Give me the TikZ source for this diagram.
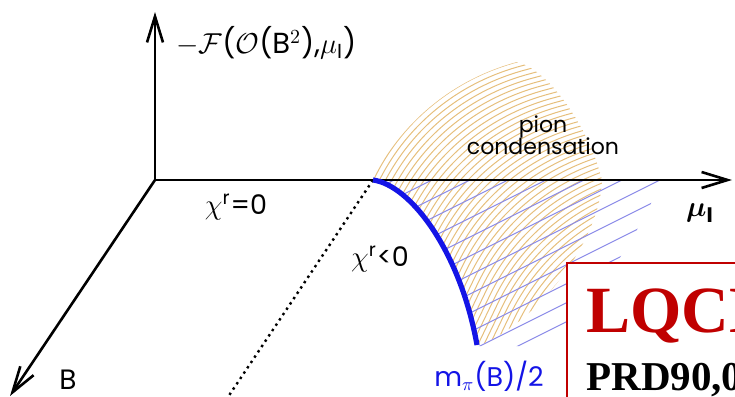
\documentclass[tikz,border=0pt]{standalone}
\usepackage{amsmath}
\usepackage{fontspec}
\setmainfont{Poppins}
\newfontfamily\refserif{Liberation Serif}
\usetikzlibrary{arrows.meta}
\definecolor{pionTan}{HTML}{E6BF7C}
\definecolor{hatchBlue}{HTML}{8A8AE8}
\definecolor{curveBlue}{HTML}{1414E6}
\definecolor{lqcdRed}{HTML}{C00000}
\tikzset{
  axisArrow/.style={line width=1.3pt, -{Straight Barb[length=13pt, width=8pt, line width=1.3pt]}},
  pionHatch/.style={pionTan, line width=0.5pt},
  blueHatch/.style={hatchBlue, line width=0.55pt},
  critCurve/.style={curveBlue, line width=2.6pt},
  lbl/.style={font=\fontsize{13.5}{15}\selectfont, inner sep=0pt},
  refFrame/.style={draw=lqcdRed, line width=1pt, fill=white},
}

\begin{document}
\begin{tikzpicture}[x=0.5pt, y=-0.5pt]
  \clip (0,0) rectangle (735,397);
  \coordinate (O) at (155,180);
  \coordinate (ytip) at (155,12);
  \coordinate (mutip) at (732,180);
  \coordinate (btip) at (10,396);
  \coordinate (cp) at (373,180);
  \coordinate (cend) at (477,345);
  \coordinate (dotend) at (226,400);

  % pion condensation hatching
  \begin{scope}
    \clip (373,179) .. controls (400,125) and (450,80) .. (517,62)
      .. controls (550,70) and (590,130) .. (602,180)
      .. controls (600,240) and (540,320) .. (480,345) -- (477,345)
      .. controls (460,250) and (410,185) .. (373,179) -- cycle;
    \foreach \s in {-4,0,...,184}
      \draw[pionHatch, shift={(\s,\s)}] (335,260) -- (374,179)
        .. controls (400,125) and (450,80) .. (517,62) -- (620,34);
  \end{scope}
  \begin{scope}
    \clip (373,180) -- (662,180) .. controls (640,230) and (600,300) .. (540,346)
      -- (477,346) .. controls (460,250) and (410,185) .. (373,180) -- cycle;
    \foreach \j in {-3,...,13}
      \draw[blueHatch] ({432+38*\j-400},380) -- ({432+38*\j+100},130);
  \end{scope}

  % axes
  \draw[axisArrow] (O) -- (ytip);
  \draw[axisArrow] (O) -- (mutip);
  \draw[axisArrow] (O) -- (btip);
  \draw[line width=1.2pt, dotted] (cp) -- (dotend);
  \draw[critCurve] (cp) .. controls (410,185) and (460,250) .. (cend);

  \node[lbl, anchor=west, font=\fontsize{14.5}{16}\selectfont] (flabel) at (176,43)
    {$-\mathcal{F}$($\mathcal{O}$(B$^2$),$\mu_{\mathrm{I}}$)};
  \node[lbl] (chizero) at (236,207) {$\chi^{\mathrm{r}}$=0};
  \node[lbl] (chineg) at (380,259) {$\chi^{\mathrm{r}}$<0};
  \node[lbl, font=\fontsize{15}{16}\selectfont] (mulabel) at (700,213) {$\boldsymbol{\mu}_{\mathbf{I}}$};
  \node[lbl, anchor=base, font=\fontsize{14}{15}\selectfont] (blabel) at (68,389) {B};
  \node[lbl, align=center, font=\fontsize{11}{13}\selectfont] (pion) at (543,135) {pion\\[-2pt]condensation};
  \node[lbl, text=curveBlue] (mpi) at (489,376) {m$_\pi$(B)/2};

  % reference box
  \draw[refFrame] (567,263) rectangle (800,450);
  \node[anchor=base west, inner sep=0pt, text=lqcdRed,
        font=\refserif\bfseries\fontsize{33}{36}\selectfont] (lqcd) at (586,332) {LQCD};
  \node[anchor=base west, inner sep=0pt,
        font=\refserif\bfseries\fontsize{20.5}{24}\selectfont] (prd) at (586,390) {PRD90,0};
\end{tikzpicture}
\end{document}
